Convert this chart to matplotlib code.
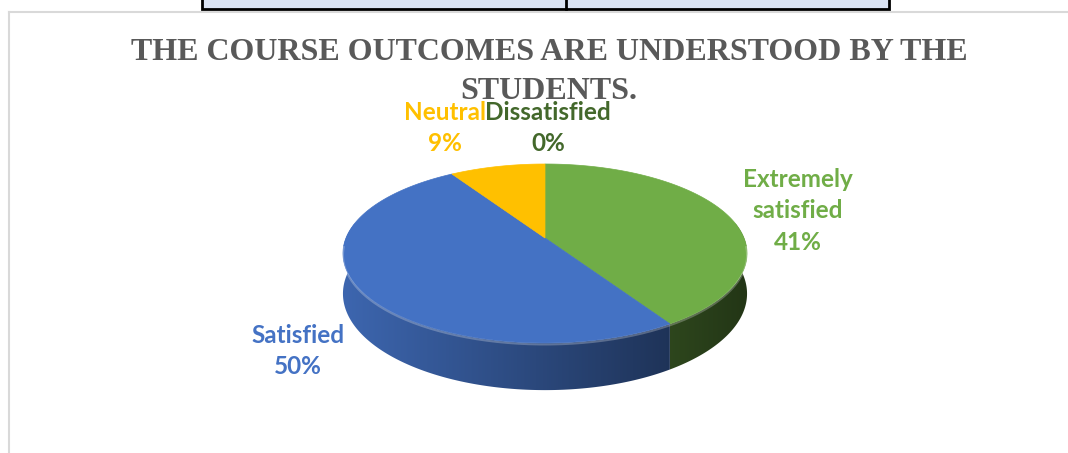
import numpy as np
import matplotlib
matplotlib.use("Agg")
import matplotlib.pyplot as plt
from matplotlib.patches import Polygon, Rectangle
from matplotlib.lines import Line2D
import matplotlib.colors as mcolors

# ---- data ----
categories = ["Extremely satisfied", "Satisfied", "Neutral", "Dissatisfied"]
values = [41, 50, 9, 0]
slice_colors = ["#70AD47", "#4472C4", "#FFC000", "#43682B"]
label_texts = ["Extremely\nsatisfied\n41%", "Satisfied\n50%", "Neutral\n9%", "Dissatisfied\n0%"]
title = "THE COURSE OUTCOMES ARE UNDERSTOOD BY THE\nSTUDENTS."

W, H = 1068, 453
fig = plt.figure(figsize=(W / 100, H / 100), dpi=100)
ax = fig.add_axes([0, 0, 1, 1])
ax.set_xlim(0, W)
ax.set_ylim(H, 0)
ax.axis("off")

# table fragment on top and chart frame
ax.add_patch(Rectangle((202, -5), 687, 14, facecolor="#DAE3F3", edgecolor="black", lw=2, zorder=1))
ax.add_line(Line2D([566, 566], [-5, 9], color="black", lw=2, zorder=2))
ax.add_line(Line2D([9, W + 5], [12, 12], color="#D9D9D9", lw=1.5, zorder=0))
ax.add_line(Line2D([9, 9], [12, H + 5], color="#D9D9D9", lw=1.5, zorder=0))

# ---- 3D pie geometry (perspective ellipse) ----
CX, CY = 545, 238
RX, RY = 199, 86.8
K = 0.173
H0 = 39.0


def proj(theta, drop=0.0):
    # theta measured clockwise from the back (12 o'clock), degrees
    t = np.radians(theta)
    x = np.sin(t)
    z = np.cos(t)
    s = 1.0 / (1 + K * z)
    return CX + RX * x * s, CY - RY * z * s + drop * H0 * s


total = float(sum(values))
bounds = np.concatenate([[0], np.cumsum(values)]) / total * 360.0

# side walls: gradient image clipped to each slice's visible side
xs = np.linspace(0, W, W)
for i, v in enumerate(values):
    if v <= 0:
        continue
    a0, a1 = max(bounds[i], 80), min(bounds[i + 1], 280)
    if a1 <= a0:
        continue
    ts = np.linspace(a0, a1, 300)
    top = [proj(t) for t in ts]
    bot = [proj(t, 1) for t in ts[::-1]]
    poly = Polygon(top + bot, closed=True, facecolor="none", edgecolor="none")
    ax.add_patch(poly)
    base = np.array(mcolors.to_rgb(slice_colors[i]))
    f = 0.62 - 0.27 * np.clip((xs - CX) / RX, -1, 1)
    if i == 0:
        f = f * 0.9
    img = np.clip(base[None, :] * f[:, None], 0, 1)[None, :, :]
    im = ax.imshow(img, extent=(0, W, H, 0), aspect="auto", interpolation="bilinear", zorder=3)
    im.set_clip_path(poly)
ax.set_xlim(0, W)
ax.set_ylim(H, 0)

# top face
for i, v in enumerate(values):
    if v <= 0:
        continue
    a0, a1 = bounds[i], bounds[i + 1]
    ts = np.linspace(a0, a1, 200)
    pts = [(CX, CY)] + [proj(t) for t in ts]
    ax.add_patch(Polygon(pts, closed=True, facecolor=slice_colors[i], edgecolor=slice_colors[i], lw=0.5, zorder=5))

# light rim highlight on the front edge
ts = np.linspace(95, 265, 200)
rim = np.array([proj(t) for t in ts])
ax.plot(rim[:, 0], rim[:, 1] + 1.5, color="white", alpha=0.25, lw=1.5, zorder=6)

# ---- labels ----
lab_pos = [(798, 211), (298, 351), (445, 128), (548, 128)]
for txt, (x, y), c in zip(label_texts, lab_pos, slice_colors):
    ax.text(x, y, txt, ha="center", va="center", fontsize=17.5, fontweight="bold",
            family="Lato", color=c, linespacing=1.45, zorder=10)

ax.text(549, 72, title, ha="center", va="center", fontsize=23, fontweight="bold",
        family="Liberation Serif", color="#595959", linespacing=1.41, zorder=9)

fig.savefig("out.png", dpi=100)
